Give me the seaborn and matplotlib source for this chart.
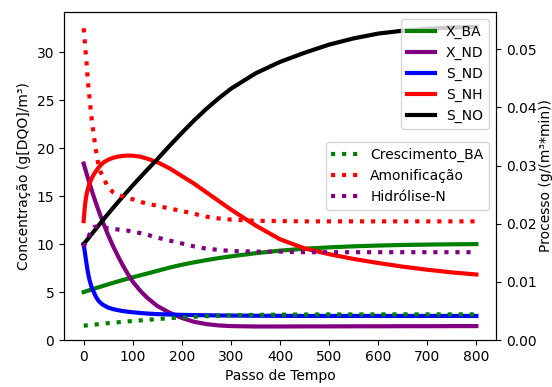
import numpy as np
import pandas as pd
import matplotlib
matplotlib.use("Agg")
import matplotlib.pyplot as plt
from matplotlib.ticker import MultipleLocator
import seaborn as sns

# Passo de tempo (amostras da simulação)
passo = [0, 2, 4, 6, 8, 10, 12, 15, 18, 21, 25, 30, 35, 40, 50, 60, 70, 80, 90,
         100, 115, 130, 150, 175, 200, 225, 250, 275, 300, 350, 400, 450, 500,
         550, 600, 650, 700, 750, 800]

# Concentrações (g[DQO]/m³)
x_ba = [5.00, 5.03, 5.07, 5.10, 5.13, 5.17, 5.20, 5.25, 5.30, 5.35, 5.41, 5.49,
        5.57, 5.65, 5.81, 5.96, 6.11, 6.26, 6.40, 6.54, 6.74, 6.94, 7.21, 7.55,
        7.85, 8.10, 8.33, 8.54, 8.72, 9.05, 9.32, 9.52, 9.66, 9.77, 9.85, 9.91,
        9.95, 9.98, 10.00]
x_nd = [18.40, 18.05, 17.70, 17.35, 17.00, 16.66, 16.33, 15.84, 15.36, 14.89,
        14.28, 13.55, 12.85, 12.18, 10.93, 9.78, 8.73, 7.76, 6.88, 6.08, 5.15,
        4.38, 3.55, 2.85, 2.30, 1.90, 1.66, 1.52, 1.45, 1.41, 1.41, 1.42, 1.42,
        1.43, 1.43, 1.44, 1.44, 1.45, 1.45]
s_nd = [10.00, 9.30, 8.60, 7.90, 7.25, 6.70, 6.25, 5.70, 5.30, 4.95, 4.50, 4.10,
        3.85, 3.65, 3.38, 3.22, 3.11, 3.02, 2.95, 2.89, 2.82, 2.76, 2.70, 2.66,
        2.62, 2.60, 2.58, 2.56, 2.55, 2.53, 2.52, 2.51, 2.51, 2.51, 2.51, 2.51,
        2.51, 2.51, 2.51]
s_nh = [12.40, 13.70, 14.60, 15.20, 15.65, 16.00, 16.30, 16.70, 17.00, 17.30,
        17.60, 17.95, 18.25, 18.50, 18.80, 19.00, 19.12, 19.20, 19.23, 19.22,
        19.12, 18.90, 18.55, 17.90, 17.10, 16.30, 15.40, 14.50, 13.60, 11.95,
        10.50, 9.55, 8.95, 8.45, 8.03, 7.65, 7.33, 7.05, 6.83]
s_no = [10.00, 10.13, 10.26, 10.38, 10.51, 10.64, 10.77, 10.96, 11.15, 11.34,
        11.60, 11.92, 12.24, 12.55, 13.17, 13.78, 14.38, 14.97, 15.55, 16.12,
        16.96, 17.78, 18.85, 20.25, 21.60, 22.90, 24.10, 25.20, 26.20, 27.80,
        29.00, 29.95, 30.80, 31.45, 31.95, 32.25, 32.45, 32.58, 32.65]

# Taxas de processo (g/(m³*min))
crescimento_ba = [0.00246, 0.00248, 0.00250, 0.00251, 0.00253, 0.00255, 0.00257,
                  0.00260, 0.00262, 0.00265, 0.00268, 0.00272, 0.00277, 0.00281,
                  0.00290, 0.00298, 0.00305, 0.00313, 0.00320, 0.00327, 0.00337,
                  0.00347, 0.00360, 0.00375, 0.00389, 0.00400, 0.00410, 0.00418,
                  0.00424, 0.00432, 0.00436, 0.00438, 0.00440, 0.00440, 0.00441,
                  0.00441, 0.00441, 0.00441, 0.00441]
amonificacao = [0.0536, 0.0516, 0.0495, 0.0476, 0.0451, 0.0433, 0.0416, 0.0389,
                0.0369, 0.0349, 0.0326, 0.0302, 0.0288, 0.0279, 0.0262, 0.0254,
                0.0249, 0.0247, 0.0244, 0.0242, 0.0238, 0.0234, 0.0231, 0.0226,
                0.0222, 0.0217, 0.0212, 0.0209, 0.0207, 0.0205, 0.02045, 0.0204,
                0.0204, 0.0204, 0.0204, 0.0204, 0.0204, 0.0204, 0.0204]
hidrolise_n = [0.0160, 0.0164, 0.0168, 0.0171, 0.0175, 0.0178, 0.0182, 0.0187,
               0.0191, 0.0194, 0.0195, 0.0195, 0.0194, 0.0194, 0.0192, 0.0191,
               0.0190, 0.0189, 0.0188, 0.0186, 0.0184, 0.0181, 0.0176, 0.0171,
               0.0166, 0.0161, 0.0157, 0.0155, 0.0153, 0.0152, 0.0152, 0.0151,
               0.0151, 0.0151, 0.0151, 0.0151, 0.0151, 0.0151, 0.0151]

conc_nomes = ["X_BA", "X_ND", "S_ND", "S_NH", "S_NO"]
conc_cores = ["green", "purple", "blue", "red", "black"]
proc_nomes = ["Crescimento_BA", "Amonificação", "Hidrólise-N"]
proc_cores = ["green", "red", "purple"]

conc = pd.DataFrame({"Passo": passo, "X_BA": x_ba, "X_ND": x_nd,
                     "S_ND": s_nd, "S_NH": s_nh, "S_NO": s_no})
proc = pd.DataFrame({"Passo": passo, "Crescimento_BA": crescimento_ba,
                     "Amonificação": amonificacao, "Hidrólise-N": hidrolise_n})
conc_long = conc.melt(id_vars="Passo", var_name="Serie", value_name="Valor")
proc_long = proc.melt(id_vars="Passo", var_name="Serie", value_name="Valor")

fig, ax = plt.subplots(figsize=(5.52, 3.87), dpi=100)
fig.subplots_adjust(left=0.116, right=0.8986, top=0.969, bottom=0.1214)

sns.lineplot(data=conc_long, x="Passo", y="Valor", hue="Serie",
             hue_order=conc_nomes, palette=dict(zip(conc_nomes, conc_cores)),
             estimator=None, sort=False, linewidth=3, legend=False, ax=ax)

ax2 = ax.twinx()
sns.lineplot(data=proc_long, x="Passo", y="Valor", hue="Serie",
             hue_order=proc_nomes, palette=dict(zip(proc_nomes, proc_cores)),
             estimator=None, sort=False, linewidth=3, linestyle=":",
             legend=False, ax=ax2)

ax.set_xlim(-40, 840)
ax.set_ylim(0, 34.2)
ax2.set_ylim(0, 0.0564)
ax.xaxis.set_major_locator(MultipleLocator(100))
ax.yaxis.set_major_locator(MultipleLocator(5))
ax2.yaxis.set_major_locator(MultipleLocator(0.01))
ax2.yaxis.set_major_formatter(matplotlib.ticker.FormatStrFormatter("%.2f"))

ax.set_xlabel("Passo de Tempo")
ax.set_ylabel("Concentração (g[DQO]/m³)")
ax2.set_ylabel("Processo (g/(m³*min))", labelpad=2)

leg1 = ax2.legend(ax.get_lines()[:len(conc_nomes)], conc_nomes, loc="upper right")
ax2.add_artist(leg1)
ax2.legend(ax2.get_lines()[:len(proc_nomes)], proc_nomes, loc="center right")

fig.savefig("out.png", dpi=100)
